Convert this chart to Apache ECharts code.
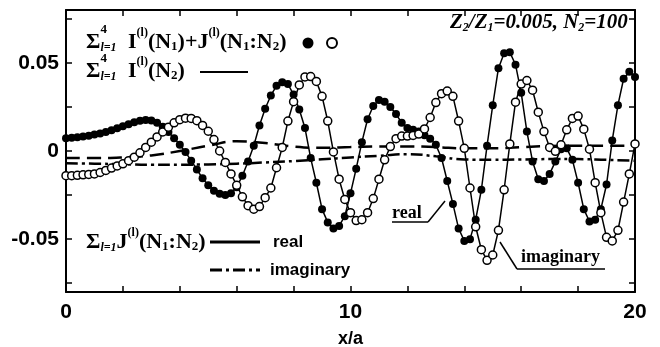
<!DOCTYPE html>
<html>
<head>
<meta charset="utf-8">
<script src="https://cdn.jsdelivr.net/npm/echarts@6/dist/echarts.min.js"></script>
<style>
  html, body { margin: 0; padding: 0; background: #fff; }
  #chart { width: 660px; height: 347px; }
</style>
</head>
<body>
<div id="chart"></div>
<script>
// sample positions x/a = 0, 0.2, ... 20
var xs = [];
for (var i = 0; i <= 100; i++) xs.push(+(i * 0.2).toFixed(1));

// filled circles (real part)
var realVals = [
  0.0073, 0.0075, 0.0078, 0.0082, 0.0087, 0.0093, 0.0100, 0.0108, 0.0118, 0.0129,
  0.0140, 0.0152, 0.0163, 0.0172, 0.0176, 0.0173, 0.0160, 0.0138, 0.0108, 0.0073,
  0.0035, -0.0006, -0.0055, -0.0105, -0.0155, -0.0195, -0.0225, -0.0243, -0.0250, -0.0240,
  -0.0205, -0.0140, -0.0060, 0.0030, 0.0145, 0.0240, 0.0315, 0.0370, 0.0390, 0.0380,
  0.0320, 0.0235, 0.0130, -0.0040, -0.0180, -0.0330, -0.0405, -0.0440, -0.0425, -0.0370,
  -0.0240, -0.0100, 0.0050, 0.0180, 0.0255, 0.0290, 0.0280, 0.0250, 0.0210, 0.0160,
  0.0130, 0.0120, 0.0110, 0.0090, 0.0070, 0.0035, -0.0040, -0.0170, -0.0300, -0.0440,
  -0.0510, -0.0500, -0.0390, -0.0220, 0.0030, 0.0260, 0.0470, 0.0555, 0.0560, 0.0490,
  0.0330, 0.0110, -0.0060, -0.0160, -0.0170, -0.0130, -0.0060, 0.0010, 0.0015, -0.0050,
  -0.0180, -0.0330, -0.0400, -0.0390, -0.0330, -0.0190, 0.0060, 0.0260, 0.0410, 0.0450,
  0.0420
];

// open circles (imaginary part)
var imagVals = [
  -0.0140, -0.0140, -0.0138, -0.0135, -0.0133, -0.0130, -0.0122, -0.0110, -0.0097, -0.0085,
  -0.0073, -0.0055, -0.0035, -0.0010, 0.0020, 0.0050, 0.0080, 0.0108, 0.0135, 0.0160,
  0.0178, 0.0186, 0.0185, 0.0172, 0.0145, 0.0112, 0.0065, 0.0000, -0.0065, -0.0130,
  -0.0195, -0.0260, -0.0310, -0.0330, -0.0315, -0.0265, -0.0210, -0.0095, 0.0020, 0.0170,
  0.0280, 0.0375, 0.0420, 0.0422, 0.0395, 0.0310, 0.0170, -0.0005, -0.0160, -0.0275,
  -0.0350, -0.0395, -0.0390, -0.0350, -0.0270, -0.0160, -0.0050, 0.0025, 0.0070, 0.0085,
  0.0085, 0.0088, 0.0096, 0.0125, 0.0190, 0.0275, 0.0325, 0.0340, 0.0310, 0.0170,
  0.0015, -0.0210, -0.0430, -0.0560, -0.0620, -0.0590, -0.0450, -0.0220, 0.0040, 0.0277,
  0.0380, 0.0400, 0.0345, 0.0220, 0.0110, 0.0020, -0.0002, 0.0035, 0.0120, 0.0185,
  0.0198, 0.0124, 0.0010, -0.0180, -0.0350, -0.0490, -0.0510, -0.0450, -0.0290, -0.0130,
  0.0040
];

// sum of J terms, real (dashed) and imaginary (dash-dot)
var lineX = [0, 1, 2, 3, 4, 5, 6, 7, 8, 9, 10, 11, 12, 13, 14, 15, 16, 17, 18, 19, 20];
var jReal = [-0.0040, -0.0040, -0.0036, -0.0025, 0.0000, 0.0030, 0.0055, 0.0045, 0.0025, 0.0018,
  0.0022, 0.0026, 0.0026, 0.0022, 0.0015, 0.0015, 0.0022, 0.0028, 0.0030, 0.0030, 0.0030];
var jImag = [-0.0070, -0.0072, -0.0075, -0.0078, -0.0078, -0.0076, -0.0072, -0.0065, -0.0057, -0.0047,
  -0.0037, -0.0027, -0.0018, -0.0030, -0.0048, -0.0050, -0.0048, -0.0046, -0.0046, -0.0050, -0.0055];

var xLabels = [0, 10, 20];
var yLabels = [-0.05, 0, 0.05];
var yTicks = [-0.075, -0.05, -0.025, 0, 0.025, 0.05, 0.075];

function pairs(x, y) { return x.map(function (v, k) { return [v, y[k]]; }); }

var SERIF = '"Liberation Serif", "Times New Roman", serif';
var SANS = '"Liberation Sans", Arial, sans-serif';
var ctx = document.createElement('canvas').getContext('2d');
function tw(t, style, size) {
  ctx.font = style + ' bold ' + size + 'px ' + SERIF;
  return ctx.measureText(t).width;
}
// lay out a run of serif text with sub/superscripts
function run(parts, x, cy) {
  var out = [];
  parts.forEach(function (p) {
    if (p.x != null) x = p.x;
    var size = p.s || 22, st = p.i ? 'italic' : 'normal';
    out.push({
      type: 'text', x: x, y: cy + (p.dy || 0), z: 100,
      style: { text: p.t, fontFamily: SERIF, fontSize: size, fontStyle: st, fontWeight: 'bold',
        fill: '#000', align: 'left', verticalAlign: 'middle' }
    });
    if (!p.keep) x += tw(p.t, st, size);
  });
  return out;
}
function seg(x1, y1, x2, y2, w, dash) {
  return { type: 'line', z: 100, shape: { x1: x1, y1: y1, x2: x2, y2: y2 },
    style: { stroke: '#000', lineWidth: w, lineDash: dash || null } };
}

var graphics = [].concat(
  run([{ t: 'Σ', s: 22, x: 86 }, { t: '4', s: 13, dy: -12, keep: true }, { t: 'l=1', s: 12, i: true, dy: 6 },
    { t: 'I', x: 128 }, { t: '(l)', s: 12, dy: -9 }, { t: '(N' }, { t: '1', s: 13, dy: 5 }, { t: ')+J' },
    { t: '(l)', s: 12, dy: -9 }, { t: '(N' }, { t: '1', s: 13, dy: 5 }, { t: ':N' }, { t: '2', s: 13, dy: 5 }, { t: ')' }], 86, 42),
  run([{ t: 'Σ', s: 22, x: 86 }, { t: '4', s: 13, dy: -12, keep: true }, { t: 'l=1', s: 12, i: true, dy: 6 },
    { t: 'I', x: 128 }, { t: '(l)', s: 12, dy: -9 }, { t: '(N' }, { t: '2', s: 13, dy: 5 }, { t: ')' }], 86, 71),
  run([{ t: 'Σ', s: 22, x: 86 }, { t: 'l=1', s: 12, i: true, dy: 6 },
    { t: 'J' }, { t: '(l)', s: 12, dy: -9 }, { t: '(N' }, { t: '1', s: 13, dy: 5 }, { t: ':N' }, { t: '2', s: 13, dy: 5 }, { t: ')' }], 86, 242),
  run([{ t: 'Z', i: true, s: 21 }, { t: '2', i: true, s: 12, dy: 5 }, { t: '/Z', i: true, s: 21 }, { t: '1', i: true, s: 12, dy: 5 },
    { t: '=0.005, N', i: true, s: 21 }, { t: '2', i: true, s: 12, dy: 5 }, { t: '=100', i: true, s: 21 }], 450, 23),
  [
    { type: 'circle', z: 100, shape: { cx: 308, cy: 43, r: 5.5 }, style: { fill: '#000' } },
    { type: 'circle', z: 100, shape: { cx: 332, cy: 43, r: 5 }, style: { fill: '#fff', stroke: '#000', lineWidth: 2 } },
    seg(200, 72, 248, 72, 2),
    seg(210, 242, 260, 242, 3),
    seg(210, 270, 260, 270, 3, [12, 4, 3, 4]),
    { type: 'text', x: 273, y: 242, z: 100, style: { text: 'real', fontFamily: SANS, fontWeight: 'bold', fontSize: 17, fill: '#000', verticalAlign: 'middle' } },
    { type: 'text', x: 270, y: 270, z: 100, style: { text: 'imaginary', fontFamily: SANS, fontWeight: 'bold', fontSize: 17, fill: '#000', verticalAlign: 'middle' } },
    { type: 'text', x: 392, y: 213, z: 100, style: { text: 'real', fontFamily: SERIF, fontWeight: 'bold', fontSize: 18, fill: '#000', verticalAlign: 'middle' } },
    seg(392, 222, 428, 222, 1.5),
    seg(428, 222, 445, 201, 1.5),
    { type: 'text', x: 521, y: 257, z: 100, style: { text: 'imaginary', fontFamily: SERIF, fontWeight: 'bold', fontSize: 18, fill: '#000', verticalAlign: 'middle' } },
    seg(517, 269, 605, 269, 1.5),
    seg(517, 269, 500, 242, 1.5)
  ]
);

var chart = echarts.init(document.getElementById('chart'), null, { renderer: 'canvas' });

var tickStyle = { inside: true, length: 6, lineStyle: { color: '#000', width: 1.5 } };
var axisLine = { show: true, onZero: false, lineStyle: { color: '#000', width: 2 } };
var labelFont = { color: '#000', fontFamily: SANS, fontWeight: 'bold', fontSize: 21 };

chart.setOption({
  animation: false,
  backgroundColor: '#fff',
  grid: { left: 66, right: 25, top: 10, bottom: 55, outerBoundsMode: 'none' },
  xAxis: [
    {
      type: 'value', min: 0, max: 20, interval: 2, position: 'bottom',
      axisLine: axisLine, axisTick: tickStyle, splitLine: { show: false },
      axisLabel: Object.assign({ margin: 10, formatter: function (v) { return xLabels.indexOf(v) >= 0 ? String(v) : ''; } }, labelFont),
      name: 'x/a', nameLocation: 'middle', nameGap: 38,
      nameTextStyle: { color: '#000', fontFamily: SANS, fontWeight: 'bold', fontSize: 18 }
    },
    {
      type: 'value', min: 0, max: 20, interval: 2, position: 'top',
      axisLine: axisLine, axisTick: tickStyle, splitLine: { show: false }, axisLabel: { show: false }
    }
  ],
  yAxis: [
    {
      type: 'value', min: -0.08, max: 0.08, position: 'left',
      axisLine: axisLine,
      axisTick: Object.assign({ customValues: yTicks }, tickStyle),
      splitLine: { show: false },
      axisLabel: Object.assign({ margin: 7, customValues: yLabels }, labelFont)
    },
    {
      type: 'value', min: -0.08, max: 0.08, position: 'right',
      axisLine: axisLine,
      axisTick: Object.assign({ customValues: yTicks }, tickStyle),
      splitLine: { show: false }, axisLabel: { show: false }
    }
  ],
  series: [
    {
      type: 'line', data: pairs(lineX, jReal), smooth: true, symbol: 'none', z: 1,
      lineStyle: { color: '#000', width: 2.5, type: [14, 7] }
    },
    {
      type: 'line', data: pairs(lineX, jImag), smooth: true, symbol: 'none', z: 1,
      lineStyle: { color: '#000', width: 2.5, type: [12, 4, 3, 4] }
    },
    {
      type: 'line', data: pairs(xs, realVals), symbol: 'circle', symbolSize: 8, z: 3,
      lineStyle: { color: '#000', width: 1.5 },
      itemStyle: { color: '#000' }
    },
    {
      type: 'line', data: pairs(xs, imagVals), symbol: 'circle', symbolSize: 8, z: 4,
      lineStyle: { color: '#000', width: 1.5 },
      itemStyle: { color: '#fff', borderColor: '#000', borderWidth: 1.5 }
    }
  ],
  graphic: graphics
});
</script>
</body>
</html>
